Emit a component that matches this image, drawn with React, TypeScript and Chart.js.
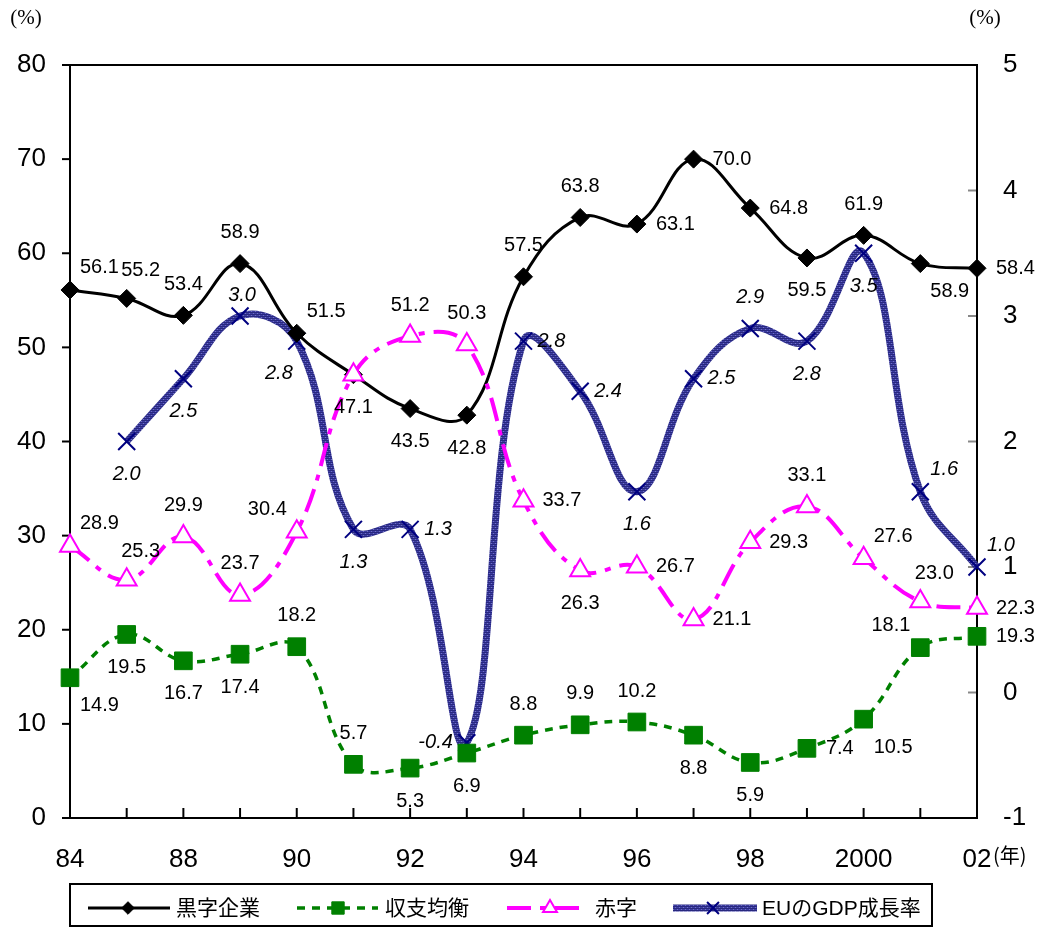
import React, { useEffect, useRef } from 'react';
import { Chart, registerables } from 'chart.js';
import { drawPoint } from 'chart.js/helpers';

Chart.register(...registerables);

// ---- data ----
const years = ['84', '86', '88', '89', '90', '91', '92', '93', '94', '95', '96', '97', '98', '99', '2000', '01', '02'];
const profitCo = [56.1, 55.2, 53.4, 58.9, 51.5, 47.1, 43.5, 42.8, 57.5, 63.8, 63.1, 70.0, 64.8, 59.5, 61.9, 58.9, 58.4];
const balancedCo = [14.9, 19.5, 16.7, 17.4, 18.2, 5.7, 5.3, 6.9, 8.8, 9.9, 10.2, 8.8, 5.9, 7.4, 10.5, 18.1, 19.3];
const deficitCo = [28.9, 25.3, 29.9, 23.7, 30.4, 47.1, 51.2, 50.3, 33.7, 26.3, 26.7, 21.1, 29.3, 33.1, 27.6, 23.0, 22.3];
const euGdpGrowth: (number | null)[] = [null, 2.0, 2.5, 3.0, 2.8, 1.3, 1.3, -0.4, 2.8, 2.4, 1.6, 2.5, 2.9, 2.8, 3.5, 1.6, 1.0];
const leftTicks = [0, 10, 20, 30, 40, 50, 60, 70, 80];
const rightTicks = [-1, 0, 1, 2, 3, 4, 5];
const seriesNames = ['黒字企業', '収支均衡', '赤字', 'EUのGDP成長率'];

// label placement around each point (n, nr, nc, s, e, w, ne, nw, se, sw, '' = none)
const profitPlace = ['ne', 'nr', 'n', 'n', 'ne', 's', 's', 's', 'n', 'n', 'e', 'e', 'e', 's', 'n', 'se', 'e'];
const balancedPlace = ['se', 's', 's', 's', 'n', 'n', 's', 's', 'n', 'n', 'n', 's', 's', 'e', 'se', 'nw', 'e'];
const deficitPlace = ['ne', 'nr', 'n', 'n', 'nw', '', 'n', 'n', 'e', 's', 'e', 'e', 'e', 'n', 'ne', 'nr', 'e'];
const euPlace = ['', 's', 's', 'nc', 'sw', 's', 'e', 'w', 'e', 'e', 's', 'e', 'n', 's', 's', 'ne', 'ne'];

const FONT = "'Liberation Sans', Arial, 'Noto Sans CJK JP', sans-serif";
const JFONT = "'Liberation Sans', 'Noto Sans CJK JP', sans-serif";

function makePattern(ctx: CanvasRenderingContext2D) {
  const pc = document.createElement('canvas');
  pc.width = 4;
  pc.height = 4;
  const g = pc.getContext('2d')!;
  g.fillStyle = '#3d3da2';
  g.fillRect(0, 0, 4, 4);
  g.fillStyle = '#28287f';
  g.fillRect(0, 0, 4, 1);
  g.fillRect(0, 2, 4, 1);
  g.fillStyle = '#7070c6';
  g.fillRect(1, 1, 1, 1);
  g.fillRect(3, 3, 1, 1);
  return ctx.createPattern(pc, 'repeat') as CanvasPattern;
}

function placeOffset(p: string, near: number) {
  const d = near;
  switch (p) {
    case 'n': return { dx: 0, dy: -31, align: 'center' as CanvasTextAlign };
    case 'nr': return { dx: 14, dy: -28, align: 'center' as CanvasTextAlign };
    case 'nc': return { dx: 2, dy: -21, align: 'center' as CanvasTextAlign };
    case 's': return { dx: 0, dy: 33, align: 'center' as CanvasTextAlign };
    case 'e': return { dx: d, dy: 0, align: 'left' as CanvasTextAlign };
    case 'w': return { dx: -d, dy: 0, align: 'right' as CanvasTextAlign };
    case 'ne': return { dx: 10, dy: -22, align: 'left' as CanvasTextAlign };
    case 'nw': return { dx: -10, dy: -22, align: 'right' as CanvasTextAlign };
    case 'se': return { dx: 10, dy: 28, align: 'left' as CanvasTextAlign };
    case 'sw': return { dx: -4, dy: 32, align: 'right' as CanvasTextAlign };
    default: return null;
  }
}

const App: React.FC = () => {
  const ref = useRef<HTMLCanvasElement>(null);

  useEffect(() => {
    const canvas = ref.current!;
    const ctx0 = canvas.getContext('2d')!;
    const bluePattern = makePattern(ctx0);
    const placements = [profitPlace, balancedPlace, deficitPlace, euPlace];

    const styles = [
      { color: '#000000', width: 3, dash: [] as number[], pointStyle: 'rectRot', radius: 9, fill: '#000000', pb: '#000000', pbw: 1 },
      { color: '#008000', width: 3.5, dash: [8, 7], pointStyle: 'rect', radius: 12.5, fill: '#008000', pb: '#008000', pbw: 1 },
      { color: '#ff00ff', width: 4, dash: [24, 9, 6, 9], pointStyle: 'triangle', radius: 11.5, fill: '#ffffff', pb: '#ff00ff', pbw: 2 },
      { color: bluePattern as any, width: 7, dash: [] as number[], pointStyle: 'crossRot', radius: 12, fill: '#000080', pb: '#000080', pbw: 2 },
    ];

    const plugin = {
      id: 'customDecor',
      beforeDatasetsDraw(chart: any) {
        const { ctx, chartArea: a, scales } = chart;
        ctx.save();
        ctx.lineWidth = 2;
        ctx.strokeStyle = '#000';
        leftTicks.forEach((v) => {
          const y = scales.y.getPixelForValue(v);
          ctx.beginPath(); ctx.moveTo(a.left - 8, y); ctx.lineTo(a.left, y); ctx.stroke();
        });
        years.forEach((_, i) => {
          const x = scales.x.getPixelForValue(i);
          ctx.beginPath(); ctx.moveTo(x, a.bottom - 10); ctx.lineTo(x, a.bottom); ctx.stroke();
        });
        ctx.strokeStyle = '#888';
        rightTicks.forEach((v) => {
          const y = scales.y2.getPixelForValue(v);
          ctx.beginPath(); ctx.moveTo(a.right - 9, y); ctx.lineTo(a.right, y); ctx.stroke();
        });
        ctx.strokeStyle = '#000';
        ctx.strokeRect(a.left, a.top, a.right - a.left, a.bottom - a.top);
        ctx.restore();
      },
      afterDatasetsDraw(chart: any) {
        const { ctx } = chart;
        ctx.save();
        ctx.textBaseline = 'middle';
        ctx.fillStyle = '#000';
        chart.data.datasets.forEach((ds: any, di: number) => {
          const meta = chart.getDatasetMeta(di);
          const italic = di === 3;
          ctx.font = `${italic ? 'italic ' : ''}20px ${FONT}`;
          meta.data.forEach((el: any, i: number) => {
            const v = ds.data[i];
            if (v === null || v === undefined) return;
            const off = placeOffset(placements[di][i], di === 3 ? 14 : 19);
            if (!off) return;
            ctx.textAlign = off.align;
            ctx.fillText(v.toFixed(1), el.x + off.dx, el.y + off.dy);
          });
        });
        ctx.restore();
      },
      afterDraw(chart: any) {
        const { ctx } = chart;
        ctx.save();
        ctx.fillStyle = '#000';
        ctx.textBaseline = 'middle';
        ctx.textAlign = 'center';
        ctx.font = "21px 'Liberation Serif', 'Noto Sans CJK JP', serif";
        ctx.fillText('(%)', 26, 18);
        ctx.fillText('(%)', 985, 18);
        ctx.font = "20px 'Noto Sans CJK JP', sans-serif";
        ctx.textAlign = 'left';
        ctx.fillText('(年)', 993, 855);

        // legend
        ctx.lineWidth = 2;
        ctx.strokeStyle = '#000';
        ctx.strokeRect(70, 884, 862, 42);
        const ly = 908;
        const items = [
          { x1: 88, x2: 170, m: 128, t: 176 },
          { x1: 297, x2: 378, m: 338, t: 385 },
          { x1: 507, x2: 583, m: 550, t: 595 },
          { x1: 673, x2: 757, m: 713, t: 762 },
        ];
        items.forEach((it, i) => {
          const s = styles[i];
          ctx.save();
          ctx.strokeStyle = s.color;
          ctx.lineWidth = s.width;
          ctx.setLineDash(s.dash);
          ctx.beginPath(); ctx.moveTo(it.x1, ly); ctx.lineTo(it.x2, ly); ctx.stroke();
          ctx.restore();
          ctx.save();
          ctx.fillStyle = s.fill;
          ctx.strokeStyle = s.pb;
          ctx.lineWidth = s.pbw;
          drawPoint(ctx, { pointStyle: s.pointStyle as any, radius: s.radius * 0.7, rotation: 0, borderWidth: s.pbw }, it.m, ly);
          ctx.restore();
          ctx.fillStyle = '#000';
          ctx.font = `21px ${JFONT}`;
          ctx.textAlign = 'left';
          ctx.fillText(seriesNames[i], it.t, ly + 1);
        });
        ctx.restore();
      },
    };

    const seriesData = [profitCo, balancedCo, deficitCo, euGdpGrowth];
    const orders = [1, 2, 0, 3];

    const chart = new Chart(canvas, {
      type: 'line',
      data: {
        labels: years,
        datasets: seriesData.map((d, i) => {
          const s = styles[i];
          return {
            label: seriesNames[i],
            data: d as any,
            yAxisID: i === 3 ? 'y2' : 'y',
            borderColor: s.color,
            borderWidth: s.width,
            borderDash: s.dash,
            tension: 0.4,
            fill: false,
            pointStyle: s.pointStyle as any,
            pointRadius: s.radius,
            pointHoverRadius: s.radius,
            pointBackgroundColor: s.fill,
            pointBorderColor: s.pb,
            pointBorderWidth: s.pbw,
            clip: false as any,
            order: orders[i],
            spanGaps: true,
          };
        }),
      },
      options: {
        responsive: false,
        animation: false,
        events: [],
        layout: { padding: { top: 65, left: 0, right: 0, bottom: 0 } },
        plugins: { legend: { display: false }, tooltip: { enabled: false } },
        scales: {
          x: {
            type: 'category',
            offset: false,
            grid: { display: false, drawTicks: false },
            border: { display: false },
            ticks: {
              autoSkip: false,
              maxRotation: 0,
              padding: 26,
              color: '#000',
              font: { family: FONT, size: 26 },
              callback: (_v: any, idx: number) => (idx % 2 === 0 ? years[idx] : ''),
            },
            afterFit: (s: any) => { s.height = 109; },
          },
          y: {
            position: 'left',
            min: 0,
            max: 80,
            grid: { display: false, drawTicks: false },
            border: { display: false },
            ticks: { stepSize: 10, padding: 24, color: '#000', font: { family: FONT, size: 26 } },
            afterFit: (s: any) => { s.width = 70; },
          },
          y2: {
            position: 'right',
            min: -1,
            max: 5,
            grid: { display: false, drawTicks: false },
            border: { display: false },
            ticks: { stepSize: 1, padding: 26, color: '#000', font: { family: FONT, size: 26 } },
            afterFit: (s: any) => { s.width = 65; },
          },
        },
      },
      plugins: [plugin],
    });

    return () => chart.destroy();
  }, []);

  return (
    <div style={{ position: 'absolute', left: 0, top: 0, width: 1042, height: 927, background: '#fff' }}>
      <canvas ref={ref} width={1042} height={927} style={{ display: 'block' }} />
    </div>
  );
};

export default App;
